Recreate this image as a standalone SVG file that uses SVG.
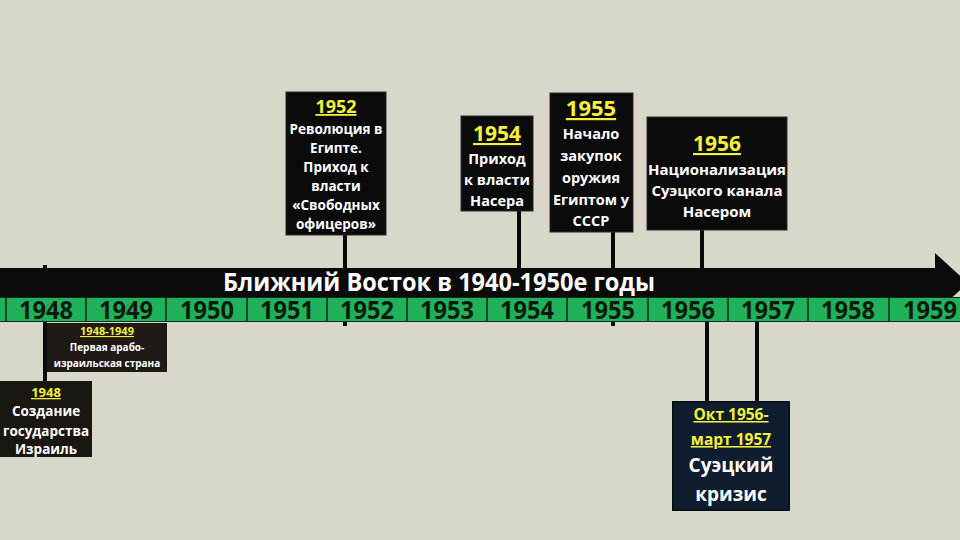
<svg xmlns="http://www.w3.org/2000/svg" width="960" height="540" viewBox="0 0 960 540">
<style>
.box{fill:#0b0b0b;stroke:#2a2a2a;stroke-width:1}
.t{font-family:"Open Sans","Noto Sans","DejaVu Sans",sans-serif;font-weight:bold;fill:#ffffff;text-anchor:middle}
.y{fill:#f5f03a;text-decoration:underline}
.yr{font-family:"Open Sans","Noto Sans","DejaVu Sans",sans-serif;font-weight:bold;font-size:25px;fill:#0e1a10;text-anchor:middle}
.ln{stroke:#0a0a0a;stroke-width:4;fill:none}
.sep{stroke:#0f2a18;stroke-width:1.5}
</style>
<rect width="960" height="540" fill="#d9d6ca"/>
<g id="connectors">
<line class="ln" x1="45" y1="265" x2="45" y2="383"/>
<line class="ln" x1="345" y1="234" x2="345" y2="326"/>
<line class="ln" x1="519" y1="210" x2="519" y2="270"/>
<line class="ln" x1="613" y1="231" x2="613" y2="326"/>
<line class="ln" x1="702" y1="229" x2="702" y2="270"/>
<line class="ln" x1="707" y1="320" x2="707" y2="403"/>
<line class="ln" x1="757" y1="320" x2="757" y2="403"/>
</g>
<g id="timeline">
<rect x="0" y="268" width="938" height="30" fill="#0a0a0a"/>
<polygon points="935,253 968,283 935,313" fill="#0a0a0a"/>
<rect x="0" y="297" width="960" height="25" fill="#1fb25a"/>
<line x1="0" y1="297.5" x2="960" y2="297.5" stroke="#0a3018" stroke-width="1"/>
<line x1="0" y1="321.5" x2="960" y2="321.5" stroke="#0a3018" stroke-width="1"/>
<g class="sep">
<line x1="6" y1="297" x2="6" y2="322"/>
<line x1="86" y1="297" x2="86" y2="322"/>
<line x1="166" y1="297" x2="166" y2="322"/>
<line x1="247" y1="297" x2="247" y2="322"/>
<line x1="327" y1="297" x2="327" y2="322"/>
<line x1="407" y1="297" x2="407" y2="322"/>
<line x1="487" y1="297" x2="487" y2="322"/>
<line x1="567" y1="297" x2="567" y2="322"/>
<line x1="648" y1="297" x2="648" y2="322"/>
<line x1="728" y1="297" x2="728" y2="322"/>
<line x1="808" y1="297" x2="808" y2="322"/>
<line x1="889" y1="297" x2="889" y2="322"/>
</g>
<text class="yr" x="46" y="319" textLength="54" lengthAdjust="spacingAndGlyphs">1948</text>
<text class="yr" x="126" y="319" textLength="54" lengthAdjust="spacingAndGlyphs">1949</text>
<text class="yr" x="207" y="319" textLength="54" lengthAdjust="spacingAndGlyphs">1950</text>
<text class="yr" x="287" y="319" textLength="54" lengthAdjust="spacingAndGlyphs">1951</text>
<text class="yr" x="367" y="319" textLength="54" lengthAdjust="spacingAndGlyphs">1952</text>
<text class="yr" x="447" y="319" textLength="54" lengthAdjust="spacingAndGlyphs">1953</text>
<text class="yr" x="527" y="319" textLength="54" lengthAdjust="spacingAndGlyphs">1954</text>
<text class="yr" x="608" y="319" textLength="54" lengthAdjust="spacingAndGlyphs">1955</text>
<text class="yr" x="688" y="319" textLength="54" lengthAdjust="spacingAndGlyphs">1956</text>
<text class="yr" x="768" y="319" textLength="54" lengthAdjust="spacingAndGlyphs">1957</text>
<text class="yr" x="848" y="319" textLength="54" lengthAdjust="spacingAndGlyphs">1958</text>
<text class="yr" x="930" y="319" textLength="54" lengthAdjust="spacingAndGlyphs">1959</text>
<text class="t" x="439" y="291" font-size="25" textLength="432" lengthAdjust="spacingAndGlyphs">Ближний Восток в 1940-1950е годы</text>
</g>
<g id="n1952">
<rect class="box" x="286" y="92" width="100" height="143"/>
<text class="t y" x="336" y="113" font-size="18">1952</text>
<text class="t" x="336" y="134" font-size="13.5">Революция в</text>
<text class="t" x="336" y="153" font-size="13.5">Египте.</text>
<text class="t" x="336" y="172" font-size="13.5">Приход к</text>
<text class="t" x="336" y="191" font-size="13.5">власти</text>
<text class="t" x="336" y="210" font-size="13.5">«Свободных</text>
<text class="t" x="336" y="229" font-size="13.5">офицеров»</text>
</g>
<g id="n1954">
<rect class="box" x="461" y="116" width="72" height="95"/>
<text class="t y" x="497" y="141" font-size="21">1954</text>
<text class="t" x="497" y="164" font-size="14.5">Приход</text>
<text class="t" x="497" y="185" font-size="14.5">к власти</text>
<text class="t" x="497" y="206" font-size="14.5">Насера</text>
</g>
<g id="n1955">
<rect class="box" x="550" y="93" width="83" height="139"/>
<text class="t y" x="591" y="116" font-size="22">1955</text>
<text class="t" x="591" y="139" font-size="14.5">Начало</text>
<text class="t" x="591" y="161" font-size="14.5">закупок</text>
<text class="t" x="591" y="183" font-size="14.5">оружия</text>
<text class="t" x="591" y="205" font-size="14.5">Египтом у</text>
<text class="t" x="591" y="226" font-size="14.5">СССР</text>
</g>
<g id="n1956">
<rect class="box" x="647" y="117" width="140" height="113"/>
<text class="t y" x="717" y="151" font-size="21">1956</text>
<text class="t" x="717" y="175" font-size="15">Национализация</text>
<text class="t" x="717" y="196" font-size="15">Суэцкого канала</text>
<text class="t" x="717" y="217" font-size="15">Насером</text>
</g>
<g id="n1948_1949">
<rect x="47" y="323" width="120" height="49" fill="#1f1a15"/>
<text class="t y" x="107" y="335" font-size="11">1948-1949</text>
<text class="t" x="107" y="351" font-size="10">Первая арабо-</text>
<text class="t" x="107" y="367" font-size="10">израильская страна</text>
</g>
<g id="n1948">
<rect x="0" y="381" width="92" height="76" fill="#1a1612"/>
<text class="t y" x="46" y="397" font-size="13">1948</text>
<text class="t" x="46" y="416" font-size="13.5">Создание</text>
<text class="t" x="46" y="436" font-size="13.5">государства</text>
<text class="t" x="46" y="454" font-size="13.5">Израиль</text>
</g>
<g id="nSuez">
<rect x="673" y="402" width="116" height="108" fill="#0f1d2e" stroke="#081018" stroke-width="2"/>
<text class="t y" x="731" y="420" font-size="15.5">Окт 1956-</text>
<text class="t y" x="731" y="445" font-size="15.5">март 1957</text>
<text class="t" x="731" y="472" font-size="19">Суэцкий</text>
<text class="t" x="731" y="501" font-size="19">кризис</text>
</g>
</svg>
